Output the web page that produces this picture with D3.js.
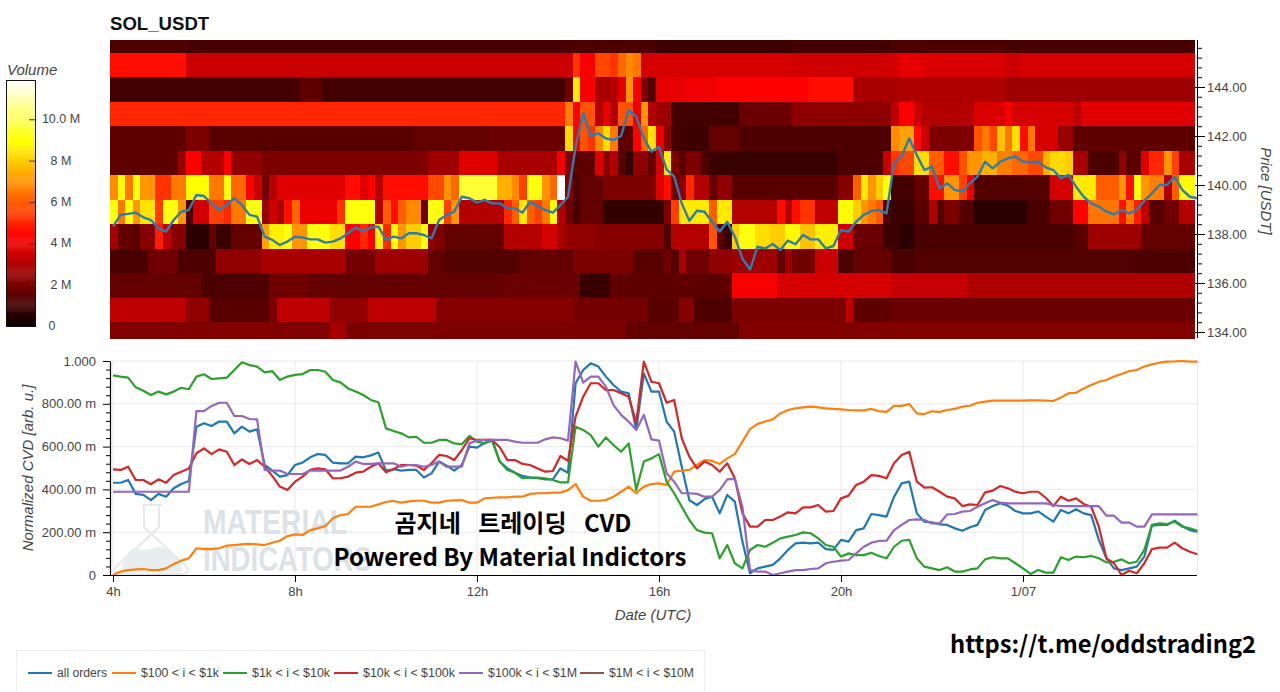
<!DOCTYPE html>
<html>
<head>
<meta charset="utf-8">
<script src="https://cdn.jsdelivr.net/npm/d3@7"></script>
<style>
  html, body { margin: 0; padding: 0; background: #fff; overflow: hidden; }
  text { font-family: "Liberation Sans", Arial, sans-serif; }
  .axis text { fill: #444; font-size: 13px; }
  .axis-label { fill: #444; font-size: 15px; font-style: italic; }
  .overlay { font-family: "Noto Sans CJK KR", "Noto Sans", sans-serif; font-weight: 700; fill: #000; }
</style>
</head>
<body>
<svg id="chart" width="1280" height="692"></svg>
<script>
// volume per price bin in millions, as [end column, value] runs
const vol146 = [[10,1.2],[28,1.1],[60,1.1],[72,1.2],[90,0.9],[103,1.0],[119,1.2],[143,1.1]];
const vol145 = [[10,4.6],[61,3.4],[62,5.2],[64,4.2],[66,5.6],[67,5.3],[68,6.2],[69,6.8],[70,6.5],[90,3.6],[103,3.5],[104,3.6],[107,3.9],[118,3.7],[120,3.4],[143,3.6]];
const vol144 = [[25,1.0],[28,1.5],[60,1.0],[61,1.8],[62,8.5],[64,4.2],[66,2.8],[67,3.0],[68,3.8],[69,7],[70,4.2],[71,2.0],[72,1.2],[76,3.9],[80,4.1],[85,4.3],[92,4.4],[98,4.6],[104,2.8],[118,2.9],[143,2.6]];
const vol143 = [[60,5.0],[61,6.6],[62,4.4],[64,5.8],[65,3.0],[66,4.0],[67,3.0],[69,5.8],[70,4.0],[71,7.0],[72,3.0],[74,2.6],[83,1.0],[90,1.7],[103,2.3],[104,3.2],[106,4.4],[107,3.4],[114,3.0],[118,3.7],[119,4.2],[127,3.6],[128,3.2],[143,3.8]];
const vol142 = [[10,1.5],[13,2.0],[40,1.4],[50,1.6],[60,1.7],[61,8.2],[62,4.2],[63,5.8],[64,5.2],[65,6.8],[66,8.3],[67,6.5],[69,1.5],[70,4.3],[71,6.2],[72,8.4],[73,4.0],[74,2.2],[76,1.0],[79,0.9],[83,1.6],[103,1.2],[104,6.8],[106,7.2],[107,4.5],[108,3.4],[114,2.0],[115,5.8],[116,6.5],[117,5.6],[118,7.8],[119,6.5],[120,8.3],[121,4.6],[122,6.5],[125,3.6],[127,2.5],[143,1.5]];
const vol141 = [[9,1.5],[10,2.5],[12,4.3],[15,3.0],[16,4.3],[20,2.4],[42,2.0],[46,2.6],[51,3.8],[59,2.8],[60,4.2],[61,2.0],[64,1.5],[65,3.8],[66,2.2],[67,3.0],[68,1.4],[69,0.7],[71,2.3],[72,1.6],[73,3.6],[74,8.6],[75,2.0],[76,1.4],[78,2],[79,1.2],[96,0.8],[102,1.2],[103,3.4],[104,5.2],[106,5.6],[108,8.3],[110,6.0],[112,4.6],[113,5.8],[115,7.0],[117,7.5],[119,6.6],[121,6.2],[123,5.6],[124,7.5],[126,8.2],[127,8],[129,2.8],[133,1.2],[134,2.4],[136,1.4],[137,3.8],[139,5.0],[140,7.0],[141,5.5],[143,2.8]];
const vol140 = [[1,6.8],[2,8.8],[3,6.5],[4,9],[6,7],[8,5.2],[10,6.5],[13,8.9],[15,6.5],[16,9],[18,6.2],[19,4.4],[20,3.4],[21,1.8],[22,3.0],[31,3.8],[33,4.6],[34,3.8],[35,4.4],[36,3.0],[42,4.5],[44,5.6],[45,7.0],[46,6.2],[51,9.5],[53,7.5],[54,6.8],[55,5.5],[57,9],[58,7],[59,6.2],[60,11.9],[61,2.2],[62,1.2],[65,1.6],[72,2.0],[73,3.8],[74,4.5],[75,1.8],[76,2.2],[77,5],[79,3.0],[80,1.6],[82,2.4],[96,1.4],[98,2.2],[99,6],[100,8.5],[101,7],[102,8],[103,9],[106,1.0],[108,1.6],[110,4.5],[112,7],[113,5.5],[114,4],[124,1.3],[127,3.6],[130,8.5],[133,6],[134,7],[135,4.6],[136,9],[137,7],[139,6.6],[140,3],[141,6],[143,8.8]];
const vol139 = [[1,9],[2,6.5],[3,8.8],[4,7],[6,8.4],[7,5.4],[9,9],[10,7],[11,1.2],[13,3.5],[15,5.5],[16,5],[18,6.5],[20,9],[21,2.5],[22,3.5],[23,2.8],[24,4.5],[25,6.2],[30,4],[31,5.2],[35,9],[36,3],[37,6],[38,4.5],[39,6],[41,6.8],[42,1.8],[44,9],[45,5.5],[46,7],[52,3],[53,5],[54,6],[55,8.5],[56,6],[57,5.5],[58,6.5],[59,8.8],[60,3],[61,1.8],[62,1],[65,1.6],[73,0.7],[74,2],[75,5.5],[79,8.5],[80,6],[82,8.5],[88,3],[89,4.5],[90,3],[91,4.6],[93,5.2],[96,3.2],[98,8.8],[99,8],[100,7],[101,6.5],[102,6],[103,1.2],[106,0.8],[108,1.4],[109,3],[110,1.2],[112,2],[114,1.3],[121,0.6],[124,1.1],[127,1.8],[129,4.4],[133,6.4],[134,4.6],[135,6.5],[136,4.8],[137,3.2],[139,1.4],[141,1.8],[143,3]];
const vol138 = [[1,2.8],[3,1.6],[4,1.4],[6,2.2],[7,4.8],[8,3.2],[10,2.2],[13,0.6],[14,1.6],[16,0.8],[20,1.6],[21,7.2],[23,8.6],[24,9],[26,7],[29,9],[31,8.3],[33,4.4],[34,5],[35,4.4],[36,8.6],[37,5],[38,8.8],[39,7],[41,8],[42,9],[43,2.4],[44,2.1],[52,1.6],[57,3.0],[59,3.6],[60,2.8],[64,2.4],[73,2.2],[74,1.2],[79,3],[80,5.8],[81,1.5],[82,0.8],[83,8],[85,9],[87,8.3],[89,8],[91,8.8],[93,7.8],[96,8.6],[98,3.5],[102,1.7],[104,0.9],[106,0.6],[127,1.1],[129,1.4],[136,2.6],[143,1.6]];
const vol137 = [[5,1.1],[9,1.8],[14,1.2],[20,2.4],[31,2.8],[35,1.9],[42,2.6],[44,1.6],[54,1.3],[61,1.6],[69,2.0],[73,1.4],[74,1.8],[75,1.3],[76,2.8],[79,1.8],[82,2.4],[88,2.6],[89,1.6],[90,2.6],[93,1.8],[96,3.4],[98,1.2],[103,1.6],[106,1.1],[135,1.3],[143,1.2]];
const vol136 = [[12,1.6],[21,1.2],[26,1.8],[52,1.6],[62,1.7],[66,0.8],[82,1.5],[88,4.2],[103,3.6],[113,3.3],[143,2.9]];
const vol135 = [[10,3.2],[13,2.4],[21,1.4],[22,2],[29,3.2],[34,2.4],[43,3.2],[61,2.2],[71,1.9],[75,1.4],[77,2.2],[82,1.2],[97,2.0],[98,3.2],[103,1.5],[143,1.7]];
const vol134 = [[29,2.1],[31,2.8],[68,2.0],[83,1.6],[143,2.1]];

// top to bottom, with the upper and lower edge of every price bin
const volRows = [vol146, vol145, vol144, vol143, vol142, vol141, vol140, vol139, vol138, vol137, vol136, vol135, vol134];
const priceEdges = [145.92, 145.4, 144.4, 143.4, 142.4, 141.4, 140.4, 139.4, 138.4, 137.4, 136.4, 135.4, 134.4, 133.75];

const price = [138.3,138.78,138.82,138.87,138.68,138.57,138.23,138.1,138.57,138.91,
  138.98,139.59,139.55,139.25,138.98,139.18,139.46,139.18,138.78,138.71,
  137.89,137.76,137.55,137.69,137.89,137.86,137.78,137.78,137.65,137.69,
  137.82,138.03,138.27,138.1,138.27,138.3,137.76,137.89,137.82,138.03,
  138.03,137.96,137.82,138.57,138.78,138.91,139.52,139.46,139.28,139.39,
  139.25,139.25,139.05,139.05,138.87,139.32,139.14,138.98,138.87,139.18,
  139.52,141.56,142.93,142.0,142.11,141.9,141.84,142.0,143.06,142.79,
  141.9,141.36,141.56,140.64,140.34,139.25,138.54,138.95,138.91,138.5,
  138.1,138.5,137.89,137.0,136.55,137.48,137.41,137.59,137.35,137.73,
  137.58,137.96,137.78,137.78,137.41,137.51,138.16,138.1,138.5,138.78,
  138.94,138.98,138.84,140.9,141.18,141.9,141.22,140.61,140.75,139.86,
  140.07,139.8,139.73,140.07,140.34,140.95,140.68,140.95,141.09,141.16,
  140.95,140.93,140.95,140.72,140.61,140.27,140.41,139.93,139.52,139.25,
  139.12,138.91,138.8,138.98,138.84,138.98,139.36,139.66,140,140,
  140.34,139.8,139.52,139.46];

const allOrders = [.431,.431,.444,.379,.374,.35,.379,.366,.405,.425,
  .439,.693,.709,.696,.717,.717,.662,.693,.67,.681,
  .514,.488,.46,.467,.514,.525,.55,.565,.561,.525,
  .522,.522,.553,.55,.559,.572,.488,.494,.488,.491,
  .491,.456,.475,.53,.511,.488,.514,.6,.595,.618,
  .628,.53,.498,.478,.463,.455,.452,.447,.447,.498,
  .478,.896,.958,.989,.974,.927,.888,.857,.849,.678,
  .942,.857,.857,.717,.67,.506,.35,.327,.355,.366,
  .288,.374,.343,.156,.008,.031,.039,.047,.078,.117,
  .148,.151,.148,.151,.121,.117,.164,.156,.21,.218,
  .285,.28,.273,.366,.428,.436,.288,.249,.246,.237,
  .234,.218,.207,.223,.234,.304,.322,.335,.324,.299,
  .288,.288,.297,.273,.249,.304,.288,.307,.288,.28,
  .164,.078,.031,.023,.031,.039,.086,.231,.234,.234,
  .254,.229,.21,.202];

const orders100to1k = [0,.016,.023,.026,.028,.023,.023,.031,.051,.067,
  .078,.125,.121,.121,.125,.137,.14,.143,.145,.143,
  .14,.151,.16,.182,.19,.187,.21,.218,.229,.265,
  .28,.285,.319,.319,.319,.33,.341,.346,.338,.344,
  .347,.347,.338,.338,.347,.349,.35,.338,.338,.358,
  .361,.363,.363,.366,.366,.379,.382,.382,.385,.385,
  .397,.425,.366,.347,.347,.35,.366,.389,.413,.382,
  .413,.425,.428,.421,.483,.488,.491,.514,.537,.533,
  .519,.545,.565,.623,.682,.706,.717,.727,.755,.771,
  .779,.783,.787,.783,.779,.776,.774,.771,.769,.769,
  .776,.766,.762,.79,.79,.799,.755,.752,.765,.762,
  .771,.776,.787,.791,.805,.81,.815,.815,.815,.815,
  .815,.816,.816,.815,.813,.829,.849,.852,.872,.888,
  .903,.911,.927,.939,.953,.958,.974,.984,.992,.997,
  .998,1,.997,.997];

const orders1kto10k = [.933,.927,.922,.877,.861,.841,.857,.844,.857,.875,
  .868,.927,.938,.916,.919,.922,.958,.994,.981,.974,
  .947,.953,.911,.927,.935,.939,.958,.958,.95,.911,
  .9,.872,.857,.841,.818,.807,.685,.673,.662,.643,
  .646,.618,.618,.631,.631,.615,.611,.65,.623,.615,
  .631,.53,.491,.478,.452,.455,.455,.452,.444,.433,
  .433,.693,.678,.654,.6,.643,.607,.576,.615,.397,
  .53,.545,.565,.436,.382,.319,.257,.21,.198,.195,
  .078,.14,.055,.031,.117,.14,.132,.151,.171,.179,
  .187,.199,.195,.171,.14,.132,.086,.101,.093,.093,
  .104,.089,.078,.132,.16,.164,.078,.039,.031,.023,
  .036,.016,.016,.026,.031,.073,.083,.078,.078,.055,
  .031,.005,.023,.011,.011,.083,.07,.086,.083,.089,
  .078,.059,.062,.073,.055,.062,.117,.234,.241,.238,
  .249,.226,.218,.207];

const orders10kto100k = [.494,.491,.506,.444,.444,.424,.447,.431,.467,.483,
  .498,.569,.592,.565,.587,.576,.514,.54,.519,.537,
  .506,.463,.413,.397,.436,.46,.491,.498,.494,.452,
  .452,.46,.478,.483,.506,.522,.48,.494,.514,.514,
  .511,.491,.522,.561,.556,.537,.584,.639,.631,.631,
  .631,.597,.537,.537,.519,.514,.498,.483,.486,.556,
  .534,.74,.833,.896,.896,.864,.864,.849,.833,.712,
  .997,.903,.896,.805,.818,.639,.553,.498,.53,.514,
  .483,.522,.452,.288,.226,.226,.257,.257,.273,.293,
  .288,.316,.316,.327,.296,.299,.358,.371,.421,.436,
  .467,.463,.452,.522,.561,.576,.436,.408,.41,.389,
  .366,.358,.322,.33,.327,.386,.394,.416,.405,.389,
  .382,.389,.389,.361,.322,.366,.347,.358,.332,.319,
  .226,.078,.055,0,.02,.008,.055,.121,.128,.128,
  .151,.125,.109,.097];

const orders100kto1M = [.389,.389,.389,.389,.389,.389,.389,.389,.389,.389,
  .389,.766,.766,.79,.805,.805,.743,.743,.729,.727,
  .491,.488,.488,.472,.472,.472,.488,.488,.488,.488,
  .488,.506,.53,.519,.519,.522,.522,.522,.506,.514,
  .514,.506,.514,.53,.506,.506,.506,.615,.628,.631,
  .631,.631,.631,.623,.618,.618,.618,.634,.643,.639,
  .628,.997,.899,.927,.927,.88,.794,.748,.717,.678,
  .748,.634,.628,.475,.436,.382,.382,.379,.366,.366,
  .397,.447,.449,.319,.023,.016,.016,0,.008,.016,
  .023,.023,.028,.031,.055,.062,.067,.07,.101,.132,
  .151,.159,.16,.21,.234,.257,.26,.257,.241,.241,
  .283,.285,.296,.299,.319,.335,.35,.338,.335,.335,
  .335,.335,.335,.335,.327,.322,.322,.322,.322,.322,
  .322,.277,.277,.245,.245,.226,.226,.283,.283,.283,
  .283,.283,.283,.283];

const seriesNames = ['all orders', '$100 < i < $1k', '$1k < i < $10k', '$10k < i < $100k', '$100k < i < $1M', '$1M < i < $10M'];
const seriesValues = [allOrders, orders100to1k, orders1kto10k, orders10kto100k, orders100kto1M, []];
const seriesColors = ['#1f77b4', '#ff7f0e', '#2ca02c', '#d62728', '#9467bd', '#8c564b'];

const priceTicks = [134, 136, 138, 140, 142, 144];
const cvdTicks = [0, .2, .4, .6, .8, 1];
const cvdTickLabels = ['0', '200.00 m', '400.00 m', '600.00 m', '800.00 m', '1.000'];
const hourTicks = [4, 8, 12, 16, 20, 24];
const hourTickLabels = ['4h', '8h', '12h', '16h', '20h', '1/07'];
const volumeTicks = [0, 2, 4, 6, 8, 10];
const volumeTickLabels = ['0', '2 M', '4 M', '6 M', '8 M', '10.0 M'];

const svg = d3.select('#chart');

// shared scales
const x = d3.scaleLinear().domain([4, 28]).range([113, 1205]);
const yPrice = d3.scaleLinear().domain([134, 144]).range([332, 87]);
const yCvd = d3.scaleLinear().domain([0, 1]).range([575, 361]);
const yVolume = d3.scaleLinear().domain([0, 11.9]).range([326, 80]);
const hot = d3.scaleLinear()
  .domain([0, 4.34, 8.88, 11.9])
  .range(['#0a0000', '#ff0000', '#ffff00', '#ffffff'])
  .clamp(true);

const BIN_HOURS = 1 / 6;
const HEAT_START = 3.934;

function expandRuns(runs) {
  const cells = [];
  let col = 0;
  runs.forEach(([end, value]) => {
    for (; col < end; col++) cells.push({col, value});
  });
  return cells;
}

function drawHeatmap() {
  // the reference is a slightly soft screenshot, so the cells get a small blur and a clip
  const defs = svg.append('defs');
  defs.append('filter').attr('id', 'soft')
    .attr('x', 0).attr('y', 0).attr('width', 1).attr('height', 1)
    .append('feGaussianBlur').attr('stdDeviation', 0.7).attr('edgeMode', 'duplicate');

  const g = svg.append('g').attr('shape-rendering', 'crispEdges').attr('filter', 'url(#soft)');
  volRows.forEach((runs, row) => {
    g.selectAll(null)
      .data(expandRuns(runs))
      .enter()
      .append('rect')
      .attr('x', d => x(HEAT_START + d.col * BIN_HOURS))
      .attr('width', x(BIN_HOURS) - x(0) + 0.6)
      .attr('y', yPrice(priceEdges[row]))
      .attr('height', yPrice(priceEdges[row + 1]) - yPrice(priceEdges[row]) + 0.6)
      .attr('fill', d => hot(d.value));
  });

  const line = d3.line().x((d, i) => x(4 + i * BIN_HOURS)).y(d => yPrice(d));
  svg.append('path')
    .datum(price)
    .attr('d', line)
    .attr('fill', 'none')
    .attr('stroke', '#2f7cae')
    .attr('stroke-width', 2.4)
    .attr('stroke-linejoin', 'round');

  svg.append('text')
    .attr('x', 110).attr('y', 30)
    .attr('font-size', 18.6).attr('font-weight', 700).attr('fill', '#111')
    .text('SOL_USDT');
}

function drawPriceAxis() {
  const major = d3.axisRight(yPrice)
    .tickValues(priceTicks)
    .tickFormat(d3.format('.2f'))
    .tickSize(8)
    .tickPadding(2);
  const minorValues = d3.range(134, 145.9, 0.4).filter(v => !priceTicks.includes(Math.round(v * 10) / 10));
  const minor = d3.axisRight(yPrice)
    .tickValues(minorValues)
    .tickFormat('')
    .tickSize(5)
    .tickSizeOuter(0);

  const g = svg.append('g').attr('class', 'axis').attr('transform', 'translate(1197,0)');
  g.call(minor);
  const m = g.append('g').call(major);
  m.select('.domain').remove();
  m.selectAll('.tick line').attr('x1', -2);
  g.select('.domain').attr('d', `M0.5,${yPrice(145.92)}V${yPrice(133.75)}`).attr('stroke', '#000');
  g.selectAll('.tick text').attr('fill', '#444');

  svg.append('text')
    .attr('class', 'axis-label')
    .attr('transform', 'translate(1261,191) rotate(90)')
    .attr('text-anchor', 'middle')
    .text('Price [USDT]');
}

function drawColorbar() {
  const g = svg.append('g');
  g.append('text').attr('class', 'axis-label').attr('x', 7).attr('y', 75).text('Volume');

  const steps = d3.range(0, 11.9, 0.05);
  g.selectAll(null)
    .data(steps)
    .enter()
    .append('rect')
    .attr('x', 6).attr('width', 29)
    .attr('y', d => yVolume(d + 0.05))
    .attr('height', yVolume(0) - yVolume(0.05) + 0.4)
    .attr('fill', d => hot(d));
  g.append('rect')
    .attr('x', 6.5).attr('y', 80.5).attr('width', 29).attr('height', 246)
    .attr('fill', 'none').attr('stroke', '#111');

  const axis = d3.axisLeft(yVolume)
    .tickValues(volumeTicks.filter(v => v > 0))
    .tickFormat('')
    .tickSize(6)
    .tickSizeOuter(0);
  const ticks = g.append('g').attr('transform', 'translate(35,0)').call(axis);
  ticks.select('.domain').remove();
  ticks.selectAll('.tick line').attr('stroke', '#5a2a00');

  g.selectAll(null)
    .data(volumeTicks)
    .enter()
    .append('text')
    .attr('x', d => (d === 0 ? 52 : 61))
    .attr('y', d => yVolume(d) + 4)
    .attr('text-anchor', 'middle')
    .attr('font-size', 12.5)
    .attr('fill', '#444')
    .text((d, i) => volumeTickLabels[i]);
}

function drawGrid() {
  const g = svg.append('g').attr('stroke', '#e9e9e9').attr('stroke-width', 1);
  g.selectAll(null).data(cvdTicks.slice(1)).enter().append('line')
    .attr('x1', 110).attr('x2', 1197)
    .attr('y1', d => yCvd(d)).attr('y2', d => yCvd(d));
  g.selectAll(null).data(hourTicks).enter().append('line')
    .attr('x1', d => x(d)).attr('x2', d => x(d))
    .attr('y1', yCvd(1)).attr('y2', yCvd(0));
  g.append('line').attr('x1', 1197.5).attr('x2', 1197.5).attr('y1', yCvd(1)).attr('y2', yCvd(0));
}

function drawWatermark() {
  const g = svg.append('g');
  g.append('path')
    .attr('d', 'M142,505 H162 M144,505 V527 L187,567 Q190,574 182,574 H120 Q112,574 116,567 L159,527 V505')
    .attr('fill', 'none').attr('stroke', '#e6e8e9').attr('stroke-width', 2);
  g.append('path')
    .attr('d', 'M122,567 Q128,546 138,548 Q146,552 156,547 Q168,544 182,567 Q184,572 178,572 H126 Q120,572 122,567 Z')
    .attr('fill', '#e6eef0');
  g.append('text')
    .attr('x', 203).attr('y', 534)
    .attr('font-size', 35).attr('font-weight', 700).attr('fill', '#dde2e6')
    .attr('textLength', 144).attr('lengthAdjust', 'spacingAndGlyphs')
    .text('MATERIAL');
  g.append('text')
    .attr('x', 203).attr('y', 571)
    .attr('font-size', 35).attr('font-weight', 700).attr('fill', '#dde2e6')
    .attr('textLength', 169).attr('lengthAdjust', 'spacingAndGlyphs')
    .text('INDICATORS');
}

function drawCvdLines() {
  const line = d3.line().x((d, i) => x(4 + i * BIN_HOURS)).y(d => yCvd(d));
  seriesValues.forEach((values, i) => {
    if (!values.length) return;
    svg.append('path')
      .datum(values)
      .attr('d', line)
      .attr('fill', 'none')
      .attr('stroke', seriesColors[i])
      .attr('stroke-width', 2.2)
      .attr('stroke-linejoin', 'round');
  });
}

function drawCvdAxes() {
  const left = svg.append('g').attr('class', 'axis').attr('transform', 'translate(110,0)');
  const minorValues = d3.range(0, 1.001, 0.04).map(v => Math.round(v * 100) / 100).filter(v => !cvdTicks.includes(v));
  left.call(d3.axisLeft(yCvd).tickValues(minorValues).tickFormat('').tickSize(4).tickSizeOuter(0));
  left.select('.domain').attr('stroke', '#000').attr('stroke-width', 1.2);
  const leftMajor = left.append('g').call(
    d3.axisLeft(yCvd).tickValues(cvdTicks).tickSize(7).tickPadding(7)
      .tickFormat((d, i) => cvdTickLabels[i])
  );
  leftMajor.select('.domain').remove();
  left.selectAll('.tick text').attr('fill', '#444');

  const bottom = svg.append('g').attr('class', 'axis').attr('transform', `translate(0,${yCvd(0)})`);
  bottom.call(
    d3.axisBottom(x).tickValues(hourTicks).tickSize(7).tickPadding(5).tickSizeOuter(0)
      .tickFormat((d, i) => hourTickLabels[i])
  );
  bottom.select('.domain').attr('d', 'M110,0.5H1197').attr('stroke', '#000').attr('stroke-width', 1.2);
  bottom.selectAll('.tick text').attr('fill', '#444');

  svg.append('text')
    .attr('class', 'axis-label')
    .attr('x', 653).attr('y', 620)
    .attr('text-anchor', 'middle')
    .text('Date (UTC)');
  svg.append('text')
    .attr('class', 'axis-label')
    .attr('transform', 'translate(33,468) rotate(-90)')
    .attr('text-anchor', 'middle')
    .text('Normalized CVD [arb. u.]');
}

function drawOverlayText() {
  svg.append('text').attr('class', 'overlay')
    .attr('x', 513).attr('y', 532).attr('text-anchor', 'middle').attr('font-size', 24)
    .attr('word-spacing', 12)
    .text('곰지네 트레이딩 CVD');
  svg.append('text').attr('class', 'overlay')
    .attr('x', 510).attr('y', 566).attr('text-anchor', 'middle').attr('font-size', 24)
    .text('Powered By Material Indictors');
  svg.append('text').attr('class', 'overlay')
    .attr('x', 950).attr('y', 653).attr('font-size', 23.7)
    .text('https://t.me/oddstrading2');
}

function drawLegend() {
  const g = svg.append('g');
  g.append('rect')
    .attr('x', 16.5).attr('y', 650.5).attr('width', 688).attr('height', 45)
    .attr('fill', '#fff').attr('stroke', '#eee');
  const itemX = [28, 112, 223, 334, 459, 580];
  const itemWidth = [50, 78, 78, 92, 89, 85];
  seriesNames.forEach((name, i) => {
    g.append('line')
      .attr('x1', itemX[i]).attr('x2', itemX[i] + 24)
      .attr('y1', 673).attr('y2', 673)
      .attr('stroke', seriesColors[i]).attr('stroke-width', 2);
    g.append('text')
      .attr('x', itemX[i] + 29).attr('y', 677)
      .attr('font-size', 12.5).attr('fill', '#444')
      .attr('textLength', itemWidth[i]).attr('lengthAdjust', 'spacingAndGlyphs')
      .text(name);
  });
}

drawHeatmap();
drawPriceAxis();
drawColorbar();
drawGrid();
drawWatermark();
drawCvdLines();
drawCvdAxes();
drawOverlayText();
drawLegend();
</script>
</body>
</html>
